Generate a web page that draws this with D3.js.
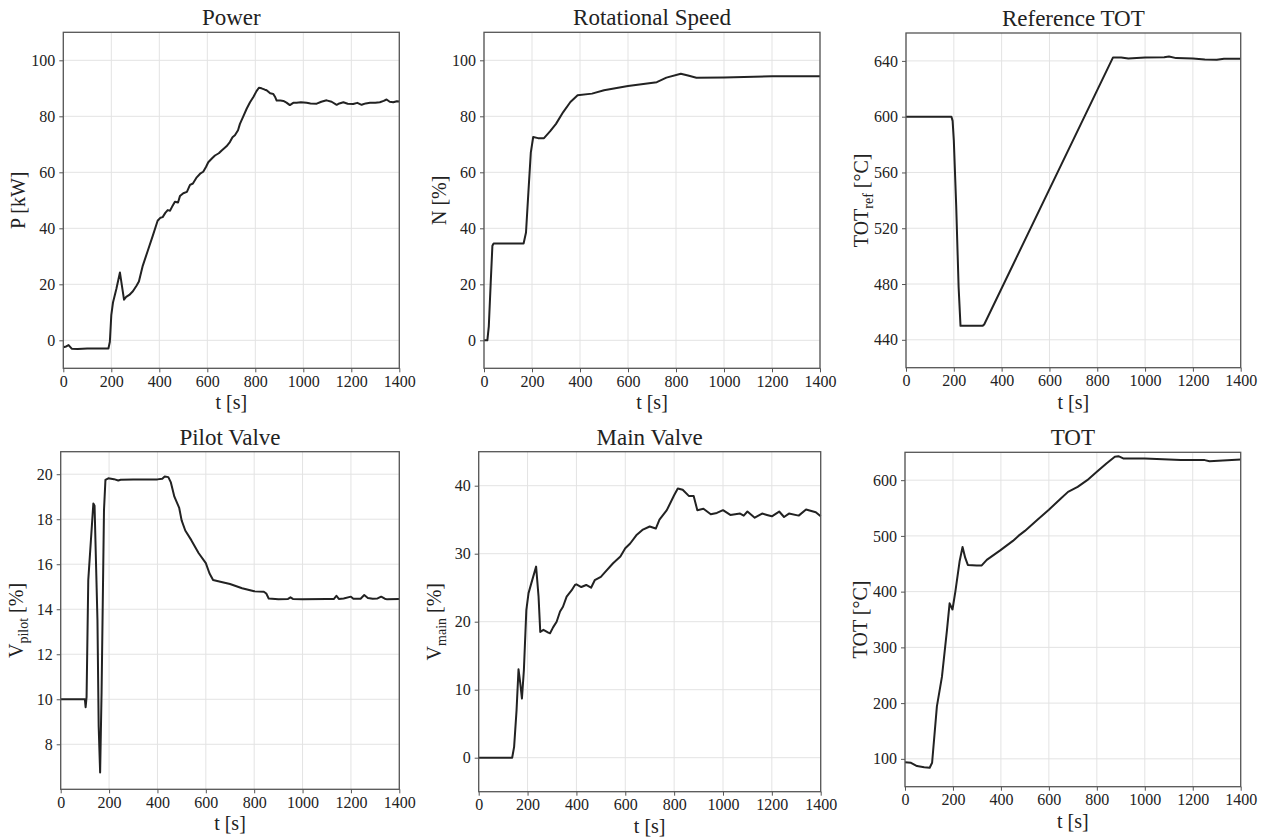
<!DOCTYPE html>
<html>
<head>
<meta charset="utf-8">
<title>Engine test</title>
<script src="https://cdn.jsdelivr.net/npm/d3@7"></script>
<style>
  body { margin: 0; background: #fff; }
  svg text { font-family: "Liberation Serif", "Times New Roman", serif; fill: #222; }
</style>
</head>
<body>
<svg id="chart" width="1263" height="839"></svg>
<script>
// ---- data (t in s) ----
const powerT = [0,12,22,35,60,100,150,188,194,200,207,221,236,253,262,275,290,305,315,331,352,373,393,405,414,425,435,445,455,465,478,486,500,515,528,540,556,570,583,595,604,620,632,648,660,680,694,705,715,728,736,750,764,778,792,805,815,826,840,847,862,875,882,889,905,917,930,944,958,972,990,1014,1030,1056,1075,1097,1118,1139,1150,1167,1185,1208,1225,1243,1260,1278,1300,1319,1335,1347,1360,1375,1390,1400];
const powerV = [-2.5,-2.2,-1.7,-3.0,-3.1,-2.9,-2.9,-2.9,-0.5,9,13.5,18.3,24.2,14.5,15.5,16.2,17.5,19.5,21,26.6,32,37.4,42.7,43.8,44,45.5,46.5,46.3,48,49.5,49.2,51.5,52.5,53,55.5,56,58.2,59.5,60.2,62,63.6,65,66,66.8,67.8,69.3,70.8,72.5,73.2,75,77.3,80,82.7,85,86.9,89,90.2,90,89.5,89.3,88.2,88,87,85.6,85.6,85.5,84.9,84,84.8,84.8,85,84.8,84.6,84.5,85.2,85.7,85.2,84.1,84.6,85,84.5,84.4,84.8,84.1,84.6,84.8,84.8,85,85.5,86,85.2,85,85.4,85.3];

const speedT = [0,14,20,28,35,40,100,165,175,185,195,205,225,250,275,300,330,360,390,450,500,600,720,760,820,850,885,1000,1200,1400];
const speedV = [0,0,5,20.6,33.8,34.6,34.6,34.6,38.5,52.9,67,72.6,72.2,72.2,74.6,77.3,81.5,85.1,87.5,88.1,89.3,90.8,92.2,93.8,95.2,94.6,93.8,93.9,94.3,94.3];

const refT = [0,190,195,200,210,220,228,320,327,866,900,930,1000,1080,1100,1130,1200,1250,1300,1330,1400];
const refV = [600,600,597,583,536,478,450,450,451,642.5,642.5,641.7,642.5,642.6,643.2,642,641.8,641,640.8,641.5,641.5];

const pilotT = [0,100,103,107,114,135,140,152,157,163,169,179,185,197,220,238,248,300,400,420,430,445,455,470,490,500,515,540,570,600,615,630,660,700,750,800,840,850,860,900,940,950,960,1000,1100,1130,1140,1150,1170,1200,1210,1240,1255,1270,1290,1310,1325,1340,1350,1400];
const pilotV = [10,10,9.65,10.1,15.3,18.7,18.6,13.5,8.8,6.75,10.3,18.4,19.75,19.82,19.78,19.72,19.75,19.77,19.77,19.8,19.9,19.87,19.65,19,18.5,17.95,17.5,17.07,16.5,16.05,15.6,15.3,15.22,15.12,14.93,14.8,14.78,14.7,14.48,14.44,14.46,14.53,14.46,14.44,14.45,14.46,14.6,14.46,14.48,14.56,14.47,14.47,14.63,14.5,14.47,14.48,14.56,14.47,14.44,14.45];

const mainT = [0,137,145,155,163,170,177,185,195,204,215,235,245,252,265,285,292,305,319,333,345,360,380,394,400,420,440,460,475,500,520,550,580,600,620,645,670,700,725,740,770,800,815,835,860,880,895,920,950,975,1000,1030,1050,1070,1085,1100,1130,1160,1180,1200,1230,1250,1270,1310,1340,1380,1400];
const mainV = [0,0,1.6,7,13,11,8.7,12.9,21.7,24.2,25.6,28.1,23.7,18.5,18.8,18.4,18.3,19.2,20,21.5,22.2,23.7,24.6,25.4,25.5,25.1,25.4,25,26.1,26.6,27.4,28.6,29.6,30.8,31.5,32.7,33.5,34,33.7,35,36.4,38.6,39.6,39.4,38.5,38.5,36.4,36.6,35.8,36,36.4,35.7,35.8,35.9,35.6,36.2,35.3,35.9,35.7,35.5,36.2,35.4,35.9,35.6,36.5,36.1,35.5];

const totT = [0,25,50,80,103,113,133,154,175,186,198,210,228,240,251,262,299,320,341,397,450,473,500,550,600,650,680,720,760,800,840,875,890,910,1000,1100,1150,1250,1270,1400];
const totV = [94,92.8,87,85,84,93,194,247,331,379,368,400,455,480,461,448,447,447,457,474,491,500,509,528,547,567,579,588,600,615,630,642,643,639,639,637,636,636,634,637];

const xTicks = [0,200,400,600,800,1000,1200,1400];
const powerTicks = [0,20,40,60,80,100];
const speedTicks = [0,20,40,60,80,100];
const refTicks = [440,480,520,560,600,640];
const pilotTicks = [8,10,12,14,16,18,20];
const mainTicks = [0,10,20,30,40];
const totTicks = [100,200,300,400,500,600];

const panels = [
  {title: "Power", label: ["P [kW]"], t: powerT, v: powerV, yd: [-10,110], ticks: powerTicks, box: [63.3,399.3,32.3,368.3]},
  {title: "Rotational Speed", label: ["N [%]"], t: speedT, v: speedV, yd: [-10,110], ticks: speedTicks, box: [484,820,32.3,368.3]},
  {title: "Reference TOT", label: ["TOT", "ref", " [°C]"], t: refT, v: refV, yd: [420,660], ticks: refTicks, box: [906,1240.7,33,367.7]},
  {title: "Pilot Valve", label: ["V", "pilot", " [%]"], t: pilotT, v: pilotV, yd: [6,21], ticks: pilotTicks, box: [60.7,399.3,451.7,789.3]},
  {title: "Main Valve", label: ["V", "main", " [%]"], t: mainT, v: mainV, yd: [-5,45], ticks: mainTicks, box: [478.7,820.7,451.7,791.7]},
  {title: "TOT", label: ["TOT [°C]"], t: totT, v: totV, yd: [50,650], ticks: totTicks, box: [905,1240.7,452.3,786.7]}
];

const svg = d3.select("#chart");

panels.forEach(p => {
  const [x0, x1, y0, y1] = p.box;
  const x = d3.scaleLinear().domain([0, 1400]).range([x0, x1]);
  const y = d3.scaleLinear().domain(p.yd).range([y1, y0]);
  const g = svg.append("g");

  // grid
  g.append("g").selectAll("line").data(xTicks).join("line")
    .attr("x1", d => x(d)).attr("x2", d => x(d))
    .attr("y1", y0).attr("y2", y1)
    .attr("stroke", "#e3e3e3").attr("stroke-width", 1);
  g.append("g").selectAll("line").data(p.ticks).join("line")
    .attr("x1", x0).attr("x2", x1)
    .attr("y1", d => y(d)).attr("y2", d => y(d))
    .attr("stroke", "#e3e3e3").attr("stroke-width", 1);

  // axes
  const xa = g.append("g").attr("transform", `translate(0,${y1})`)
    .call(d3.axisBottom(x).tickValues(xTicks).tickSize(4).tickPadding(3).tickFormat(d3.format("d")));
  const ya = g.append("g").attr("transform", `translate(${x0},0)`)
    .call(d3.axisLeft(y).tickValues(p.ticks).tickSize(4).tickPadding(4).tickFormat(d3.format("d")));
  [xa, ya].forEach(a => {
    a.select(".domain").remove();
    a.selectAll(".tick line").attr("stroke", "#555");
    a.selectAll("text").attr("font-size", 16).attr("fill", "#333")
      .style("font-family", "'Liberation Serif', 'Times New Roman', serif");
  });

  // series
  const line = d3.line().x(d => x(d[0])).y(d => y(d[1]));
  g.append("path")
    .datum(d3.zip(p.t, p.v))
    .attr("d", line)
    .attr("fill", "none")
    .attr("stroke", "#222")
    .attr("stroke-width", 2)
    .attr("stroke-linejoin", "round");

  // frame
  g.append("rect")
    .attr("x", x0).attr("y", y0)
    .attr("width", x1 - x0).attr("height", y1 - y0)
    .attr("fill", "none").attr("stroke", "#555").attr("stroke-width", 1.3);

  // title
  g.append("text")
    .attr("x", (x0 + x1) / 2).attr("y", y0 - 7)
    .attr("text-anchor", "middle")
    .attr("font-size", 23).attr("fill", "#111")
    .text(p.title);

  // x label
  g.append("text")
    .attr("x", (x0 + x1) / 2).attr("y", y1 + 41)
    .attr("text-anchor", "middle")
    .attr("font-size", 20).attr("fill", "#333")
    .text("t [s]");

  // y label (with optional subscript)
  const yl = g.append("text")
    .attr("transform", `translate(${x0 - 38},${(y0 + y1) / 2}) rotate(-90)`)
    .attr("text-anchor", "middle")
    .attr("font-size", 20).attr("fill", "#333");
  yl.append("tspan").text(p.label[0]);
  if (p.label.length > 1) {
    yl.append("tspan").attr("dy", 5).attr("font-size", 14).text(p.label[1]);
    yl.append("tspan").attr("dy", -5).text(p.label[2]);
  }
});
</script>
</body>
</html>
